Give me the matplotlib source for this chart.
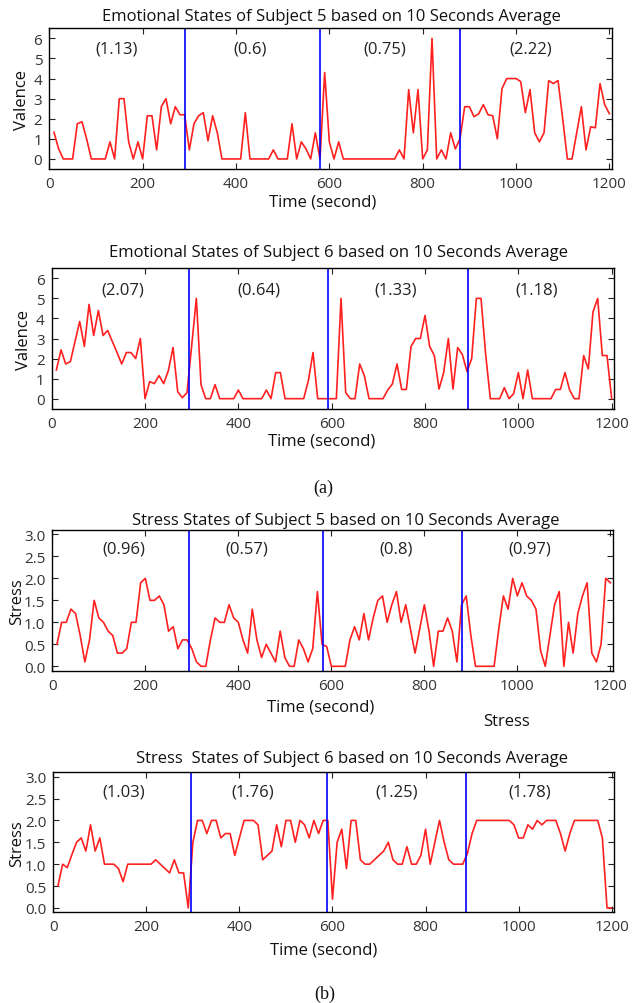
import numpy as np
import matplotlib
matplotlib.use("Agg")
import matplotlib.pyplot as plt

plt.rcParams['font.family'] = ['Open Sans', 'DejaVu Sans']

# time axis, one sample per 10 second window
time_s = np.arange(10, 1201, 10)

valence_s5 = [1.33, 0.5, 0, 0, 0, 1.75, 1.85, 1.0, 0, 0, 0, 0, 0.85, 0, 3.0, 3.0, 0.85, 0, 0.85, 0,
              2.15, 2.15, 0.45, 2.6, 3.0, 1.75, 2.6, 2.2, 2.2,
              0.45, 1.75, 2.15, 2.3, 0.9, 2.15, 1.3, 0, 0, 0, 0, 0, 2.3, 0, 0, 0, 0, 0, 0.45, 0,
              0, 0, 1.75, 0, 0.85, 0.5, 0, 1.3, 0,
              4.3, 0.85, 0, 0.85, 0, 0, 0, 0, 0, 0, 0, 0, 0, 0, 0, 0, 0.45, 0, 3.45, 1.3,
              3.45, 0, 0.45, 6.0, 0, 0.45, 0, 1.3, 0.5, 1.0,
              2.6, 2.6, 2.1, 2.25, 2.7, 2.2, 2.15, 1.0, 3.5, 4.0, 4.0, 4.0, 3.85, 2.3, 3.45, 1.3,
              0.85, 1.3, 3.9, 3.75, 3.9, 2.0, 0, 0, 1.3, 2.6, 0.45, 1.6, 1.55, 3.75, 2.7, 2.25]

valence_s6 = [1.43, 2.43, 1.73, 1.85, 2.85, 3.85, 2.6, 4.7, 3.15, 4.4, 3.15, 3.4, 2.85, 2.3, 1.73,
              2.3, 2.3, 2.0, 3.0, 0, 0.85, 0.75, 1.15, 0.75, 1.4, 2.55, 0.35, 0.05, 0.3,
              2.65, 5.0, 0.7, 0, 0, 0.7, 0, 0, 0, 0, 0.43, 0, 0, 0, 0, 0, 0.43, 0, 1.3, 1.3,
              0, 0, 0, 0, 0, 0.9, 2.3, 0, 0, 0,
              0, 0, 5.0, 0.3, 0, 0, 1.73, 1.15, 0, 0, 0, 0, 0.43, 0.73, 1.73, 0.46, 0.46, 2.6,
              3.0, 3.0, 4.15, 2.6, 2.15, 0.48, 1.3, 3.0, 0.48, 2.55, 2.2, 1.35,
              2.0, 5.0, 5.0, 2.2, 0, 0, 0, 0.55, 0, 0.25, 1.3, 0, 1.43, 0, 0, 0, 0, 0, 0.46,
              0.46, 1.3, 0.43, 0, 0, 2.15, 1.48, 4.33, 5.0, 2.15, 2.15, 0]

stress_s5 = [0.5, 1.0, 1.0, 1.3, 1.2, 0.7, 0.1, 0.6, 1.5, 1.1, 1.0, 0.8, 0.7, 0.3, 0.3, 0.4, 1.0,
             1.0, 1.9, 2.0, 1.5, 1.5, 1.6, 1.4, 0.8, 0.9, 0.4, 0.6, 0.6,
             0.4, 0.1, 0, 0, 0.6, 1.1, 1.0, 1.0, 1.4, 1.1, 1.0, 0.6, 0.3, 1.3, 0.6, 0.2, 0.5,
             0.3, 0.1, 0.8, 0.2, 0, 0, 0.6, 0.4, 0.1, 0.4, 1.7, 0.5,
             0.45, 0, 0, 0, 0, 0.6, 0.9, 0.6, 1.2, 0.6, 1.1, 1.5, 1.6, 1.0, 1.4, 1.7, 1.0, 1.4,
             0.85, 0.3, 0.85, 1.4, 0.8, 0, 0.8, 0.8, 1.1, 0.8, 0.1, 1.4,
             1.6, 0.7, 0, 0, 0, 0, 0, 0.85, 1.6, 1.3, 2.0, 1.6, 1.9, 1.6, 1.5, 1.3, 0.35, 0,
             0.7, 1.4, 1.7, 0, 1.0, 0.3, 1.2, 1.6, 1.9, 0.3, 0.1, 0.5, 2.0, 1.9]

stress_s6 = [0.5, 1.0, 0.92, 1.22, 1.5, 1.6, 1.3, 1.9, 1.3, 1.6, 1.0, 1.0, 1.0, 0.9, 0.6, 1.0,
             1.0, 1.0, 1.0, 1.0, 1.0, 1.1, 1.0, 0.9, 0.8, 1.1, 0.8, 0.8, 0.0,
             1.5, 2.0, 2.0, 1.7, 2.0, 2.0, 1.6, 1.7, 1.7, 1.2, 1.6, 2.0, 2.0, 2.0, 1.9, 1.1,
             1.2, 1.3, 1.9, 1.4, 2.0, 2.0, 1.5, 2.0, 1.9, 1.6, 2.0, 1.7, 2.0, 2.0,
             0.2, 1.5, 1.8, 0.9, 2.0, 2.0, 1.1, 1.0, 1.0, 1.1, 1.2, 1.3, 1.5, 1.1, 1.0, 1.0,
             1.4, 1.0, 1.0, 1.2, 1.8, 1.0, 1.5, 2.0, 1.5, 1.1, 1.0, 1.0, 1.0, 1.25,
             1.7, 2.0, 2.0, 2.0, 2.0, 2.0, 2.0, 2.0, 2.0, 1.9, 1.6, 1.6, 1.9, 1.8, 2.0, 1.9,
             2.0, 2.0, 2.0, 1.7, 1.3, 1.7, 2.0, 2.0, 2.0, 2.0, 2.0, 2.0, 1.6, 0.0, 0.0]

# split lines between the four sessions
splits_v5 = [290, 580, 880]
splits_v6 = [295, 593, 892]
splits_s5 = [295, 583, 882]
splits_s6 = [295, 589, 886]

# session averages (printed inside each panel)
avg_v5 = ["(1.13)", "(0.6)", "(0.75)", "(2.22)"]
avg_v6 = ["(2.07)", "(0.64)", "(1.33)", "(1.18)"]
avg_s5 = ["(0.96)", "(0.57)", "(0.8)", "(0.97)"]
avg_s6 = ["(1.03)", "(1.76)", "(1.25)", "(1.78)"]
avg_x_v5 = [144, 430, 719, 1031]
avg_x_v6 = [153, 443, 737, 1039]
avg_x_s5 = [154, 418, 739, 1027]
avg_x_s6 = [152, 428, 737, 1023]

W, H = 637, 1004
fig = plt.figure(figsize=(W / 100, H / 100), dpi=100)
fig.patch.set_facecolor('white')


def px_box(left, top, right, bottom):
    return [left / W, 1 - bottom / H, (right - left) / W, (bottom - top) / H]


def panel(box, y, splits, avgs, avg_x, avg_y, ylabel, ylim, yticks, yfmt,
          title, title_x, title_y, xlabel_x, xlabel_y, ylabel_x):
    ax = fig.add_axes(px_box(*box))
    ax.plot(time_s, y, color='#ff2020', linewidth=1.2)
    for s in splits:
        ax.axvline(s, color='#0000ff', linewidth=1.2)
    for t, xx in zip(avgs, avg_x):
        ax.text(xx, avg_y, t, ha='center', va='center', fontsize=12, color='#222222')
    ax.set_xlim(0, 1205)
    ax.set_ylim(*ylim)
    ax.set_xticks([0, 200, 400, 600, 800, 1000, 1200])
    ax.set_yticks(yticks)
    ax.set_yticklabels([yfmt.format(v) for v in yticks])
    ax.tick_params(direction='in', top=True, right=True, labelsize=11, length=4,
                   pad=5, colors='#222222', labelcolor='#333333')
    for sp in ax.spines.values():
        sp.set_linewidth(1.0)
    fig.text(title_x / W, 1 - title_y / H, title, ha='center', va='baseline',
             fontsize=12, color='#111111')
    fig.text(xlabel_x / W, 1 - xlabel_y / H, "Time (second)", ha='center', va='baseline',
             fontsize=12, color='#111111')
    fig.text(ylabel_x / W, 1 - (box[1] + box[3]) / 2 / H, ylabel, rotation=90,
             ha='center', va='center', fontsize=12, color='#111111')
    return ax


panel((49.3, 29.3, 611.7, 170), valence_s5, splits_v5, avg_v5, avg_x_v5, 5.5,
      "Valence", (-0.5, 6.5), [0, 1, 2, 3, 4, 5, 6], "{:d}",
      "Emotional States of Subject 5 based on 10 Seconds Average", 331.7, 20.7,
      322.5, 206.7, 21.7)

panel((51.7, 269.3, 614, 409.7), valence_s6, splits_v6, avg_v6, avg_x_v6, 5.46,
      "Valence", (-0.5, 6.5), [0, 1, 2, 3, 4, 5, 6], "{:d}",
      "Emotional States of Subject 6 based on 10 Seconds Average", 338.8, 256.7,
      322, 446, 24)

panel((52.3, 531, 612.7, 671.7), stress_s5, splits_s5, avg_s5, avg_x_s5, 2.69,
      "Stress", (-0.1, 3.1), [0.0, 0.5, 1.0, 1.5, 2.0, 2.5, 3.0], "{:.1f}",
      "Stress States of Subject 5 based on 10 Seconds Average", 345.5, 525,
      320.5, 711.7, 16.7)

panel((53.3, 773.3, 614, 913.3), stress_s6, splits_s6, avg_s6, avg_x_s6, 2.65,
      "Stress", (-0.1, 3.1), [0.0, 0.5, 1.0, 1.5, 2.0, 2.5, 3.0], "{:.1f}",
      "Stress  States of Subject 6 based on 10 Seconds Average", 352, 762.7,
      324, 955, 17.3)

# stray label and sub-figure captions
fig.text(507 / W, 1 - 726 / H, "Stress", ha='center', va='baseline', fontsize=12, color='#111111')
fig.text(323 / W, 1 - 493 / H, "(a)", ha='center', va='baseline', fontsize=13,
         family='Liberation Serif', color='#111111')
fig.text(325 / W, 1 - 999 / H, "(b)", ha='center', va='baseline', fontsize=13,
         family='Liberation Serif', color='#111111')

fig.savefig("out.png", dpi=100, facecolor='white')
